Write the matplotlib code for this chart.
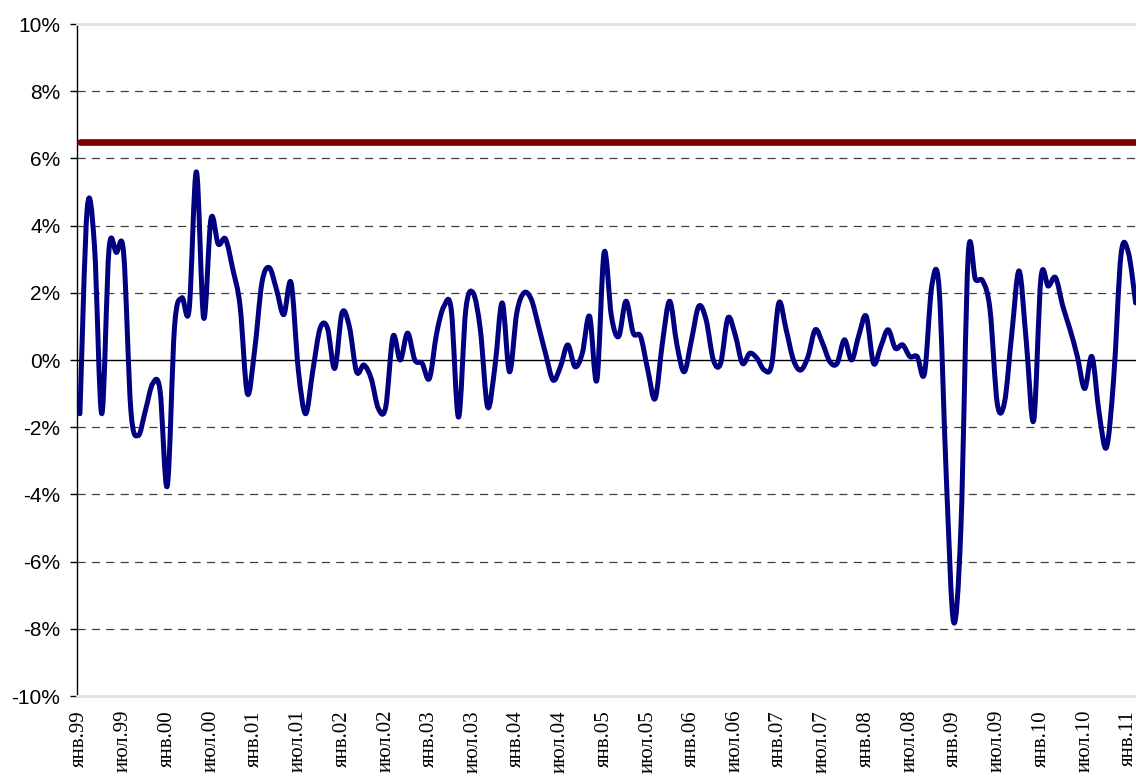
# monthly rate chart, jan 1999 - feb 2011, with 6.5% target line

import numpy as np
import matplotlib
matplotlib.use('Agg')
import matplotlib.pyplot as plt
from matplotlib.path import Path
from matplotlib.patches import PathPatch

# monthly values (%), one list per year
y1999 = [-1.6, 4.5, 3.4, -1.6, 3.3, 3.2, 3.2, -1.5, -2.25, -1.5, -0.7, -0.9]
y2000 = [-3.75, 1.0, 1.85, 1.5, 5.6, 1.25, 4.2, 3.45, 3.6, 2.7, 1.6, -1.0]
y2001 = [0.3, 2.3, 2.75, 2.1, 1.35, 2.3, -0.3, -1.6, -0.3, 0.95, 0.95, -0.25]
y2002 = [1.4, 1.0, -0.35, -0.15, -0.55, -1.45, -1.4, 0.7, 0.0, 0.8, 0.0, -0.1]
y2003 = [-0.55, 0.8, 1.6, 1.5, -1.7, 1.5, 2.0, 0.9, -1.4, -0.2, 1.7, -0.35]
y2004 = [1.4, 2.0, 1.8, 1.0, 0.15, -0.6, -0.2, 0.45, -0.2, 0.2, 1.3, -0.6]
y2005 = [3.2, 1.3, 0.7, 1.75, 0.8, 0.7, -0.3, -1.15, 0.5, 1.75, 0.45, -0.35]
y2006 = [0.6, 1.6, 1.2, 0.0, -0.1, 1.25, 0.75, -0.1, 0.2, 0.05, -0.3, -0.15]
y2007 = [1.7, 0.9, 0.0, -0.3, 0.1, 0.9, 0.5, -0.05, -0.1, 0.6, 0.0, 0.75]
y2008 = [1.3, -0.1, 0.4, 0.9, 0.35, 0.45, 0.1, 0.1, -0.4, 2.2, 2.15, -3.5]
y2009 = [-7.8, -5.0, 3.1, 2.4, 2.35, 1.5, -1.3, -1.25, 0.8, 2.65, 0.5, -1.8]
y2010 = [2.45, 2.2, 2.45, 1.6, 0.9, 0.1, -0.85, 0.1, -1.6, -2.6, -0.5, 3.15]
y2011 = [3.2, 1.7]

target = 6.5

tick_labels = ['янв.99', 'июл.99', 'янв.00', 'июл.00', 'янв.01', 'июл.01',
               'янв.02', 'июл.02', 'янв.03', 'июл.03', 'янв.04', 'июл.04',
               'янв.05', 'июл.05', 'янв.06', 'июл.06', 'янв.07', 'июл.07',
               'янв.08', 'июл.08', 'янв.09', 'июл.09', 'янв.10', 'июл.10',
               'янв.11']

values = np.array(y1999 + y2000 + y2001 + y2002 + y2003 + y2004 + y2005
                  + y2006 + y2007 + y2008 + y2009 + y2010 + y2011)
months = np.arange(len(values))


def smooth_path(x, y):
    # excel-like smoothed line: catmull-rom segments as cubic beziers
    px = np.concatenate([[x[0]], x, [x[-1]]])
    py = np.concatenate([[y[0]], y, [y[-1]]])
    verts = [(x[0], y[0])]
    codes = [Path.MOVETO]
    for i in range(1, len(px) - 2):
        c1 = (px[i] + (px[i + 1] - px[i - 1]) / 6, py[i] + (py[i + 1] - py[i - 1]) / 6)
        c2 = (px[i + 1] - (px[i + 2] - px[i]) / 6, py[i + 1] - (py[i + 2] - py[i]) / 6)
        verts += [c1, c2, (px[i + 1], py[i + 1])]
        codes += [Path.CURVE4] * 3
    return Path(verts, codes)


fig = plt.figure(figsize=(11.36, 7.76), dpi=100)
ax = fig.add_axes([77 / 1136, 80 / 776, 1 - 77 / 1136, 672 / 776])

# grid lines
for g in [-8, -6, -4, -2, 2, 4, 6, 8]:
    ax.axhline(g, color='#404040', lw=0.9, dashes=(6.5, 5.0), zorder=1)
ax.axhline(0, color='black', lw=1.0, zorder=1)

# target line
ax.plot(months, np.full(len(months), target), color='#800000', lw=4.8,
        solid_capstyle='round', zorder=3)

# main series, smoothed
patch = PathPatch(smooth_path(months, values), facecolor='none', edgecolor='#000080',
                  lw=3.6, joinstyle='round', capstyle='round', zorder=4)
ax.add_patch(patch)

ax.set_xlim(-0.4, 145.05)
ax.set_ylim(-10, 10)

ax.set_yticks(np.arange(-10, 11, 2))
ax.set_yticklabels([f'{v}%' for v in range(-10, 11, 2)], fontsize=15,
                   fontfamily='Liberation Sans')
ax.tick_params(axis='y', length=5, width=1, pad=7, direction='out')

ax.set_xticks(np.arange(0, len(months), 6)[:len(tick_labels)])
ax.set_xticklabels(tick_labels, rotation=90, fontsize=15, fontfamily='Liberation Serif',
                   va='top', ha='center')
ax.tick_params(axis='x', length=0, pad=10)

ax.spines['left'].set_color('black')
ax.spines['left'].set_linewidth(1.0)
ax.spines['top'].set_color('#e0e0e0')
ax.spines['top'].set_linewidth(2)
ax.spines['bottom'].set_color('#e0e0e0')
ax.spines['bottom'].set_linewidth(2)
ax.spines['right'].set_visible(False)

fig.savefig('out.png', dpi=100)
